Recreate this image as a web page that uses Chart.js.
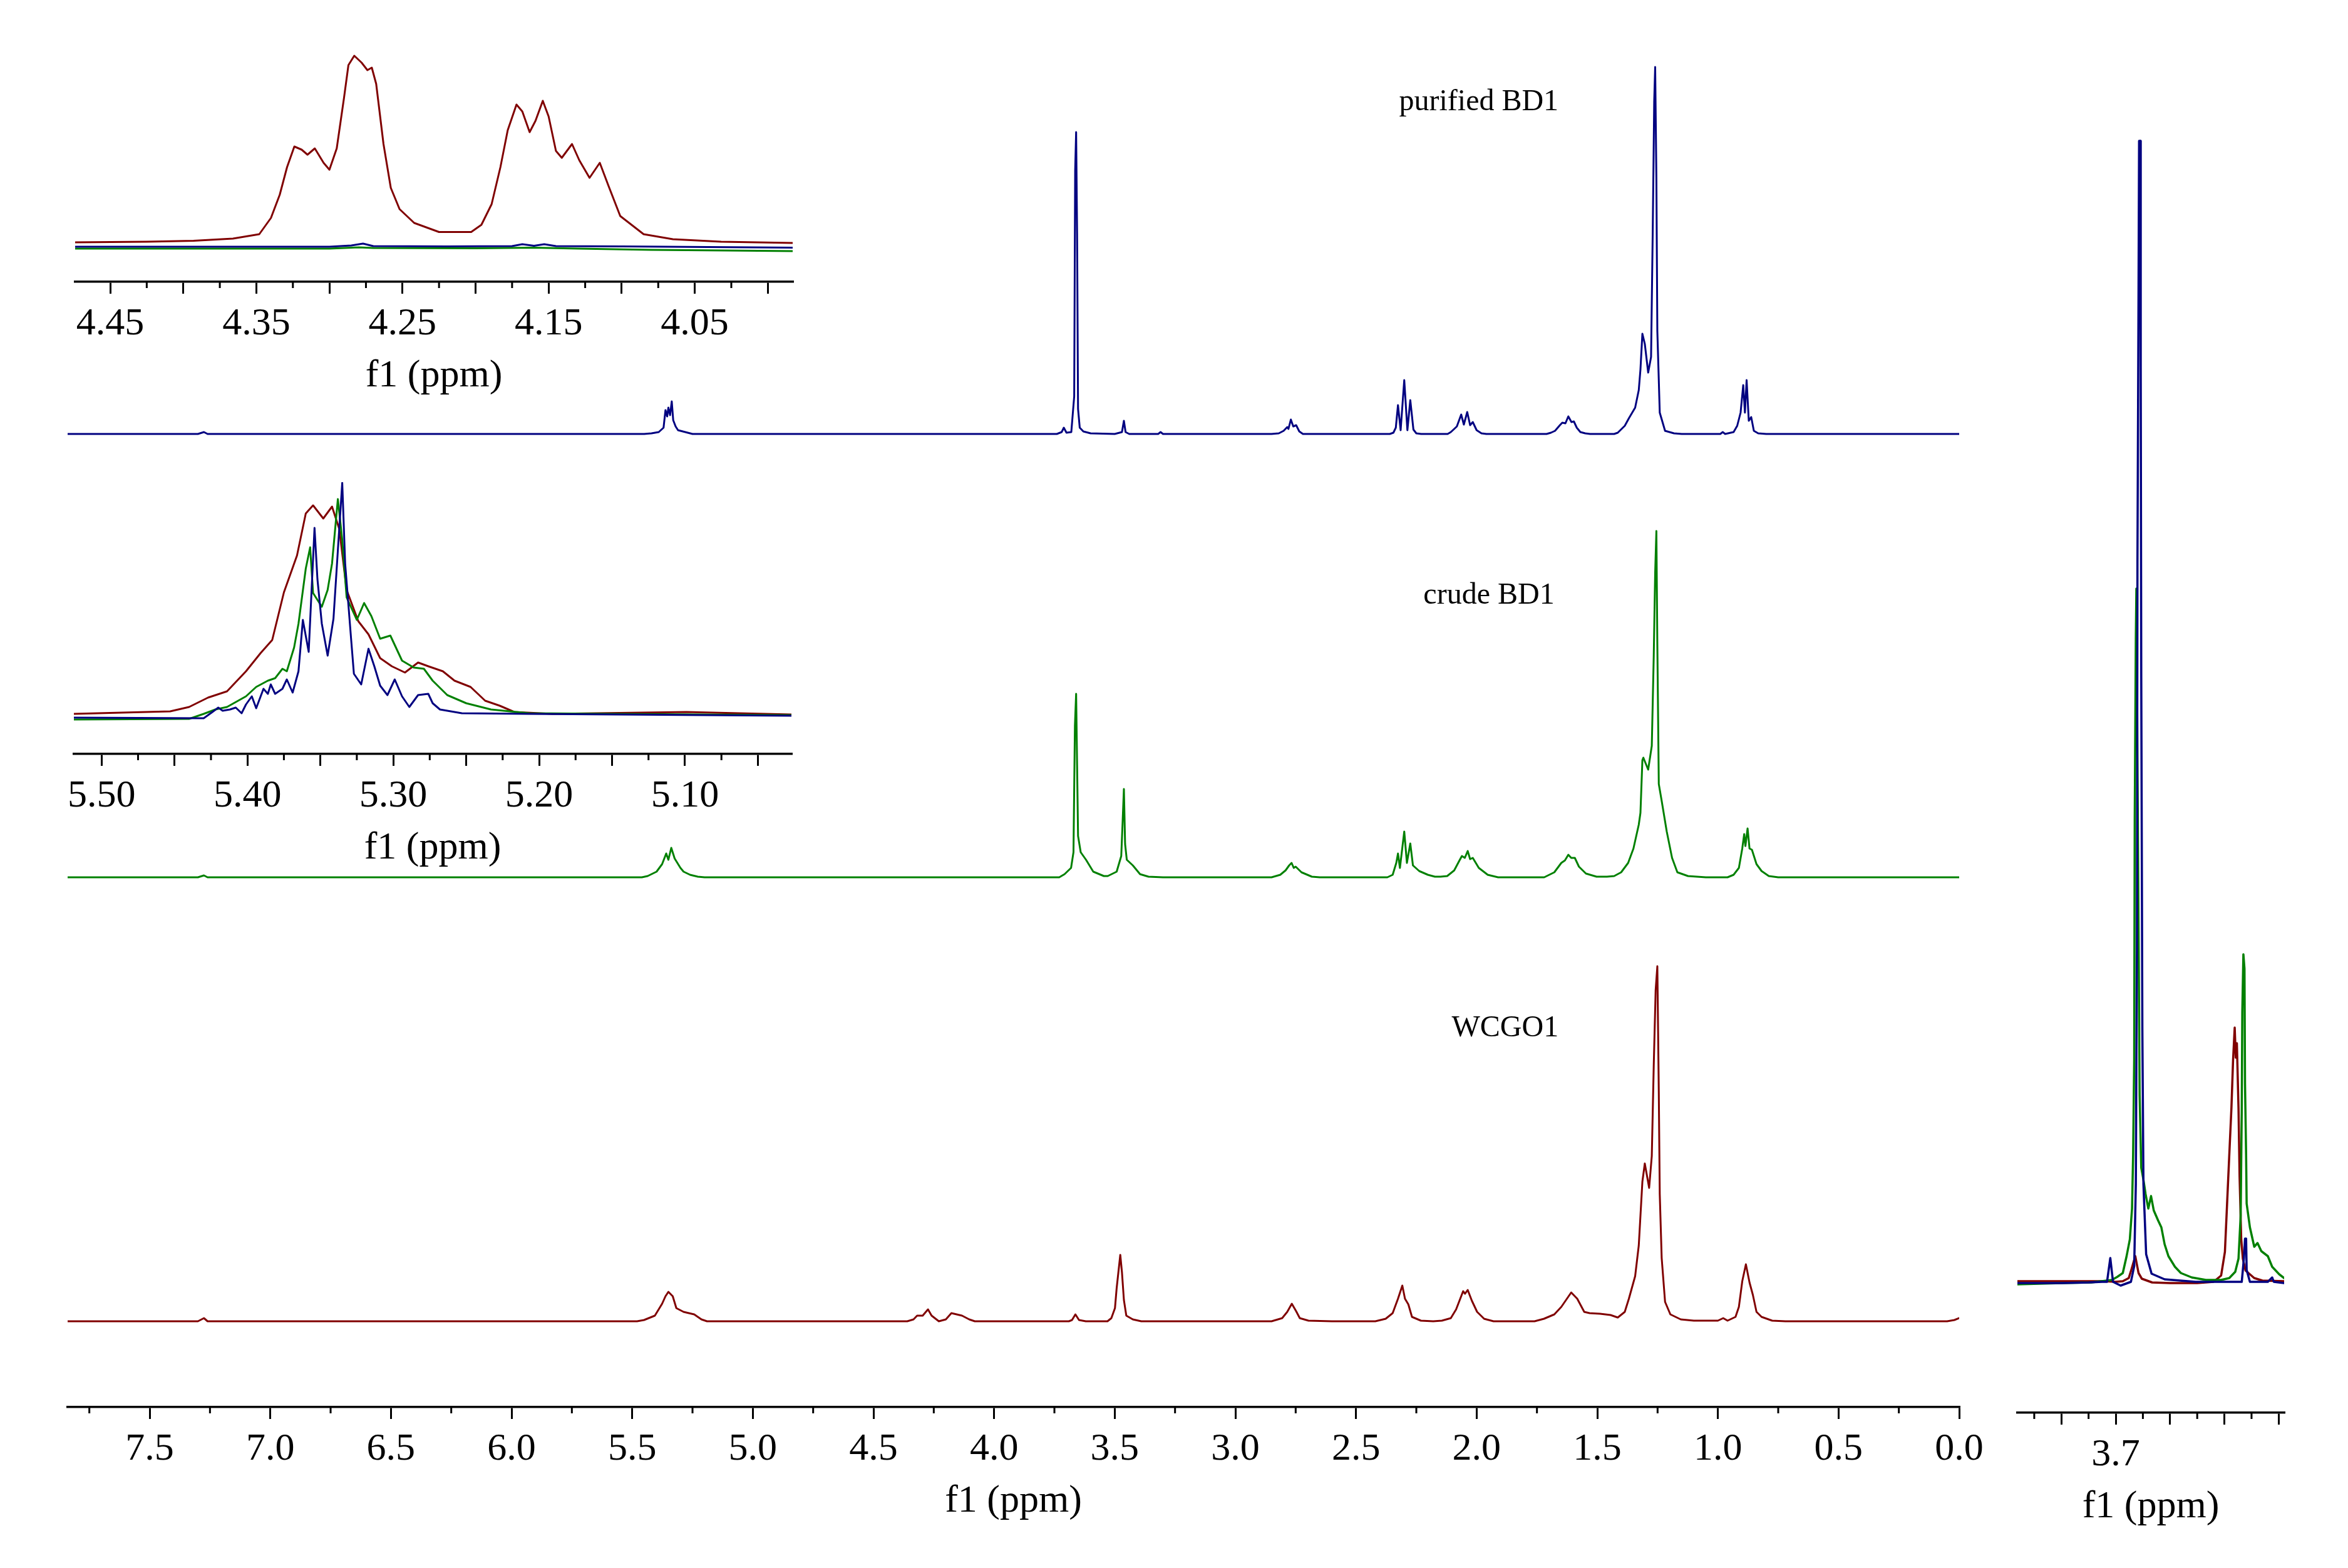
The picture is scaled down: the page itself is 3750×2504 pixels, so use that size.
<!DOCTYPE html>
<html><head><meta charset="utf-8">
<script src="https://cdn.jsdelivr.net/npm/chart.js@4.4.1/dist/chart.umd.min.js"></script>
<style>
html,body{margin:0;padding:0;background:#fff;}
body{width:3750px;height:2504px;position:relative;overflow:hidden;}
canvas{position:absolute;}
</style></head><body>
<canvas id="main" width="3200" height="2504" style="left:0;top:0;width:3200px;height:2504px"></canvas>
<canvas id="right" width="520" height="2504" style="left:3180px;top:0;width:520px;height:2504px"></canvas>
<canvas id="inset1" width="1300" height="700" style="left:0;top:0;width:1300px;height:700px"></canvas>
<canvas id="inset2" width="1300" height="720" style="left:0;top:700px;width:1300px;height:720px"></canvas>
<script>
// ---------------- DATA ----------------
// series names
const seriesNames = ['purified BD1', 'crude BD1', 'WCGO1'];

// main spectra: [ppm, intensity (a.u.)]
const purifiedMain = [[7.84,0],[7.30,0],[7.275,3],[7.26,0],[5.45,0],[5.42,1],[5.39,3],[5.37,10],[5.362,38],[5.355,28],[5.350,42],[5.343,30],[5.336,52],[5.33,22],[5.32,12],[5.31,6],[5.29,4],[5.27,2],[5.25,0],
 [3.74,0],[3.72,3],[3.711,10],[3.70,2],[3.68,3],[3.668,60],[3.664,420],[3.660,482],[3.656,320],[3.652,40],[3.645,10],[3.63,4],[3.60,1],[3.50,0],[3.47,3],[3.462,21],[3.455,3],[3.44,0],[3.32,0],[3.31,3],[3.30,0],
 [2.85,0],[2.82,1],[2.80,5],[2.785,11],[2.78,8],[2.77,23],[2.76,12],[2.748,14],[2.735,4],[2.72,0],
 [2.36,0],[2.345,2],[2.335,10],[2.326,46],[2.315,6],[2.300,86],[2.287,6],[2.275,54],[2.262,7],[2.25,1],[2.23,0],
 [2.12,0],[2.107,3],[2.093,8],[2.082,12],[2.064,31],[2.053,15],[2.039,35],[2.027,14],[2.016,19],[2.00,6],[1.98,1],[1.96,0],
 [1.71,0],[1.692,2],[1.675,5],[1.655,14],[1.645,18],[1.632,17],[1.62,28],[1.607,19],[1.597,20],[1.585,10],[1.57,3],[1.55,1],[1.53,0],
 [1.43,0],[1.415,2],[1.386,13],[1.369,25],[1.343,42],[1.328,70],[1.321,103],[1.313,160],[1.303,144],[1.289,98],[1.277,123],[1.270,327],[1.264,531],[1.260,586],[1.255,409],[1.251,164],[1.241,34],[1.219,5],[1.182,1],[1.15,0],
 [0.99,0],[0.98,3],[0.97,0],[0.935,3],[0.920,13],[0.906,34],[0.895,78],[0.888,34],[0.881,86],[0.872,21],[0.862,27],[0.851,5],[0.833,1],[0.80,0],[0.0,0]];

const crudeMain = [[7.84,0],[7.30,0],[7.275,3],[7.26,0],[5.46,0],[5.436,2],[5.399,9],[5.376,21],[5.359,38],[5.350,28],[5.338,47],[5.324,30],[5.30,15],[5.287,9],[5.26,4],[5.228,1],[5.20,0],
 [3.73,0],[3.708,5],[3.681,15],[3.671,40],[3.665,242],[3.660,293],[3.656,179],[3.652,66],[3.641,40],[3.619,28],[3.589,9],[3.545,2],[3.529,2],[3.492,9],[3.473,34],[3.467,91],[3.462,141],[3.457,53],[3.450,28],[3.425,19],[3.395,5],[3.36,1],[3.30,0],
 [2.85,0],[2.814,4],[2.792,11],[2.777,19],[2.767,23],[2.758,15],[2.750,17],[2.726,8],[2.683,1],[2.65,0],
 [2.37,0],[2.348,4],[2.333,23],[2.326,38],[2.318,15],[2.300,73],[2.289,23],[2.275,54],[2.264,19],[2.238,10],[2.202,4],[2.173,1],[2.15,1],
 [2.122,2],[2.093,11],[2.071,27],[2.061,34],[2.049,31],[2.037,42],[2.027,29],[2.016,31],[1.991,15],[1.954,4],[1.911,0],
 [1.72,0],[1.678,8],[1.649,23],[1.634,27],[1.620,36],[1.608,31],[1.593,31],[1.576,17],[1.547,6],[1.503,1],
 [1.46,1],[1.430,2],[1.401,8],[1.372,23],[1.350,46],[1.328,84],[1.321,103],[1.313,187],[1.309,191],[1.289,172],[1.274,210],[1.266,352],[1.260,486],[1.255,553],[1.251,371],[1.245,149],[1.233,122],[1.212,73],[1.190,31],[1.168,8],[1.124,2],[1.05,0],
 [0.96,0],[0.935,4],[0.913,15],[0.899,46],[0.891,69],[0.886,50],[0.877,78],[0.869,46],[0.859,44],[0.840,21],[0.819,10],[0.789,2],[0.75,0],[0.0,0]];

const wcgoMain = [[7.84,0],[7.30,0],[7.275,5],[7.26,0],[5.48,0],[5.451,2],[5.406,9],[5.376,28],[5.362,40],[5.350,47],[5.332,40],[5.317,21],[5.287,15],[5.243,11],[5.213,3],[5.19,0],
 [4.36,0],[4.334,3],[4.319,9],[4.296,9],[4.274,19],[4.259,9],[4.229,0],[4.200,3],[4.177,13],[4.155,11],[4.133,9],[4.103,3],[4.08,0],
 [3.69,0],[3.677,2],[3.663,11],[3.648,2],[3.62,0],
 [3.53,0],[3.514,5],[3.499,21],[3.492,53],[3.477,106],[3.470,78],[3.462,34],[3.452,9],[3.425,3],[3.39,0],
 [2.85,0],[2.806,5],[2.785,15],[2.766,28],[2.748,16],[2.733,5],[2.697,1],[2.60,0],
 [2.42,0],[2.377,4],[2.348,13],[2.326,36],[2.308,57],[2.297,36],[2.283,27],[2.268,7],[2.231,1],[2.18,0],
 [2.144,1],[2.107,5],[2.085,19],[2.056,48],[2.048,44],[2.037,50],[2.020,33],[1.998,15],[1.969,4],[1.93,0],
 [1.76,0],[1.721,4],[1.678,11],[1.649,23],[1.608,46],[1.583,36],[1.554,15],[1.532,13],[1.488,12],[1.445,10],[1.415,6],
 [1.386,15],[1.369,36],[1.343,72],[1.328,121],[1.313,223],[1.303,252],[1.285,213],[1.274,264],[1.266,407],[1.258,529],[1.251,567],[1.245,366],[1.241,203],[1.233,101],[1.219,31],[1.197,11],[1.154,3],[1.10,1],[1.0,1],
 [0.978,5],[0.96,1],[0.927,7],[0.913,23],[0.899,64],[0.884,91],[0.869,62],[0.855,42],[0.840,15],[0.819,7],[0.775,1],[0.72,0],[0.05,0],[0.02,2],[0.0,5]];

// inset 1 (4.47 - 3.98 ppm)
const wcgoInset1 = [[4.474,63],[4.425,64],[4.393,65.5],[4.366,69],[4.348,76],[4.340,102],[4.334,139],[4.329,183],[4.324,216],[4.319,211],[4.315,203],[4.310,213],[4.304,190],[4.300,179],[4.295,213],[4.290,294],[4.287,346],[4.283,361],[4.278,350],[4.274,338],[4.271,342],[4.268,316],[4.263,220],[4.258,150],[4.252,116],[4.242,94],[4.225,79.5],[4.203,79.5],[4.196,91],[4.189,124],[4.183,183],[4.178,242],[4.172,283],[4.168,272],[4.163,239],[4.159,257],[4.154,289],[4.150,264],[4.145,209],[4.141,198],[4.134,220],[4.129,194],[4.122,166],[4.115,190],[4.109,153],[4.101,105],[4.085,76],[4.065,68],[4.032,64],[3.983,62]];
const purifiedInset1 = [[4.474,56],[4.30,56],[4.285,58],[4.277,61],[4.270,57],[4.22,56.5],[4.175,57],[4.168,60],[4.160,57.5],[4.153,60],[4.145,57],[4.10,56.5],[4.07,56],[3.983,54.5]];
const crudeInset1 = [[4.474,53],[4.30,53],[4.28,55],[4.27,54],[4.20,53.5],[4.16,54.5],[4.13,53],[4.08,51],[4.03,50],[3.983,49]];

// inset 2 (5.52 - 5.03 ppm)
const wcgoInset2 = [[5.519,64],[5.453,68],[5.440,75],[5.427,90],[5.414,100],[5.401,132],[5.391,161],[5.383,182],[5.375,258],[5.366,317],[5.360,384],[5.355,397],[5.348,376],[5.342,395],[5.337,359],[5.332,262],[5.324,212],[5.317,191],[5.309,153],[5.301,140],[5.292,130],[5.283,146],[5.276,140],[5.266,132],[5.258,117],[5.247,107],[5.237,85],[5.227,77],[5.217,67],[5.191,64],[5.099,67],[5.027,63]];
const purifiedInset2 = [[5.519,58],[5.430,57],[5.424,67],[5.420,74],[5.417,69],[5.412,71],[5.408,74],[5.404,65],[5.401,79],[5.397,92],[5.394,73],[5.389,104],[5.386,96],[5.384,111],[5.381,96],[5.376,104],[5.373,119],[5.369,98],[5.365,132],[5.362,214],[5.358,163],[5.354,361],[5.352,279],[5.349,208],[5.345,157],[5.341,216],[5.338,325],[5.335,433],[5.333,304],[5.329,186],[5.327,128],[5.322,111],[5.317,168],[5.313,140],[5.309,109],[5.304,94],[5.299,119],[5.294,92],[5.289,75],[5.283,94],[5.276,96],[5.273,81],[5.268,71],[5.253,65],[5.207,64],[5.027,61]];
const crudeInset2 = [[5.519,55],[5.440,56],[5.430,64],[5.422,71],[5.414,75],[5.401,92],[5.394,107],[5.386,117],[5.381,121],[5.376,136],[5.373,132],[5.368,170],[5.365,208],[5.360,296],[5.357,330],[5.355,257],[5.349,235],[5.345,262],[5.342,304],[5.338,407],[5.335,342],[5.332,250],[5.325,214],[5.320,241],[5.315,220],[5.309,184],[5.302,189],[5.294,149],[5.286,138],[5.279,136],[5.273,117],[5.263,94],[5.250,81],[5.233,71],[5.207,65],[5.027,62]];

// right panel (3.88 - 3.39 ppm), overlaid
const purifiedRight = [[3.881,0],[3.80,0],[3.75,1],[3.725,2],[3.716,2],[3.710,40],[3.705,2],[3.691,-4],[3.672,2],[3.666,27],[3.663,158],[3.661,531],[3.660,1153],[3.658,1588],[3.657,1824],[3.655,1824],[3.654,1464],[3.653,966],[3.651,407],[3.649,158],[3.644,46],[3.634,15],[3.610,6],[3.553,2],[3.468,2],[3.464,40],[3.462,71],[3.460,71],[3.459,21],[3.453,2],[3.420,2],[3.412,9],[3.409,2],[3.390,0]];
const crudeRight = [[3.881,-2],[3.80,0],[3.745,1],[3.707,5],[3.697,10],[3.687,16],[3.680,43],[3.674,70],[3.670,119],[3.668,204],[3.666,357],[3.665,743],[3.663,1029],[3.662,1109],[3.659,700],[3.656,300],[3.654,223],[3.653,184],[3.649,165],[3.645,142],[3.640,119],[3.635,139],[3.630,116],[3.622,100],[3.616,89],[3.610,62],[3.603,43],[3.591,26],[3.580,16],[3.560,9],[3.534,5],[3.506,5],[3.491,8],[3.480,18],[3.474,39],[3.470,108],[3.468,280],[3.467,433],[3.465,525],[3.463,502],[3.462,318],[3.460,204],[3.459,127],[3.453,89],[3.445,58],[3.439,64],[3.432,51],[3.420,43],[3.412,26],[3.399,14],[3.390,8]];
const wcgoRight = [[3.881,3],[3.75,3],[3.72,3],[3.70,2],[3.687,3],[3.676,8],[3.671,22],[3.664,43],[3.658,16],[3.652,7],[3.633,1],[3.60,0],[3.55,0],[3.52,2],[3.506,12],[3.499,50],[3.495,127],[3.491,204],[3.487,280],[3.484,356],[3.481,408],[3.479,360],[3.477,383],[3.474,280],[3.472,170],[3.469,70],[3.466,39],[3.461,20],[3.445,8],[3.430,4],[3.390,3]];

// tick values
const mainMajor = [7.5,7.0,6.5,6.0,5.5,5.0,4.5,4.0,3.5,3.0,2.5,2.0,1.5,1.0,0.5,0.0];
const mainMinor = [7.75,7.25,6.75,6.25,5.75,5.25,4.75,4.25,3.75,3.25,2.75,2.25,1.75,1.25,0.75,0.25];
const inset1Major = [4.45,4.40,4.35,4.30,4.25,4.20,4.15,4.10,4.05,4.00];
const inset1Labels = [4.45,4.35,4.25,4.15,4.05];
const inset1Minor = [4.425,4.375,4.325,4.275,4.225,4.175,4.125,4.075,4.025];
const inset2Major = [5.50,5.45,5.40,5.35,5.30,5.25,5.20,5.15,5.10,5.05];
const inset2Labels = [5.50,5.40,5.30,5.20,5.10];
const inset2Minor = [5.475,5.425,5.375,5.325,5.275,5.225,5.175,5.125,5.075];
const rightMajor = [3.8,3.7,3.6,3.5,3.4];
const rightLabels = [3.7];
const rightMinor = [3.85,3.75,3.65,3.55,3.45];

// ---------------- STYLE ----------------
const FONT = '"Liberation Serif", "Times New Roman", serif';
const COL = { purified: '#000080', crude: '#008000', wcgo: '#800000' };
const AXIS_BLOCK = 200;

function xy(arr) { return arr.map(p => ({ x: p[0], y: p[1] })); }

function xAxis(min, max, major, labeled, dec) {
  return {
    type: 'linear', min: min, max: max, reverse: true,
    afterBuildTicks: s => { s.ticks = major.map(v => ({ value: v })); },
    afterFit: s => { s.height = AXIS_BLOCK; },
    ticks: {
      autoSkip: false, maxRotation: 0, minRotation: 0, padding: 12, color: '#000',
      font: { family: FONT, size: 62 },
      callback: v => labeled.some(l => Math.abs(l - v) < 1e-6) ? Number(v).toFixed(dec) : ''
    },
    grid: { display: true, drawOnChartArea: false, drawTicks: true, tickLength: 19, tickWidth: 3, tickColor: '#000', color: '#000', lineWidth: 3 },
    border: { display: true, color: '#000', width: 3.5 },
    title: { display: true, text: 'f1 (ppm)', color: '#000', font: { family: FONT, size: 62 }, padding: { top: 0, bottom: 12 } }
  };
}

function minorTicks(values, len) {
  return {
    id: 'minorTicks',
    afterDraw(chart) {
      const s = chart.scales.x, ctx = chart.ctx, y0 = chart.chartArea.bottom;
      ctx.save(); ctx.strokeStyle = '#000'; ctx.lineWidth = 3; ctx.beginPath();
      values.forEach(v => { const x = s.getPixelForValue(v); ctx.moveTo(x, y0); ctx.lineTo(x, y0 + len); });
      ctx.stroke(); ctx.restore();
    }
  };
}

function labelPlugin(items) {
  return {
    id: 'specLabels',
    afterDatasetsDraw(chart) {
      const ctx = chart.ctx; ctx.save();
      ctx.font = '48px ' + FONT; ctx.fillStyle = '#000'; ctx.textAlign = 'center'; ctx.textBaseline = 'alphabetic';
      items.forEach(it => {
        ctx.fillText(it.text, chart.scales.x.getPixelForValue(it.ppm), chart.scales[it.axis].getPixelForValue(it.h));
      });
      ctx.restore();
    }
  };
}

function ds(arr, color, axis, w) {
  return { data: xy(arr), yAxisID: axis, borderColor: color, borderWidth: w, pointRadius: 0, fill: false, tension: 0, borderJoinStyle: 'round', borderCapStyle: 'round' };
}

const baseOpts = {
  responsive: false, animation: false, devicePixelRatio: 1,
  plugins: { legend: { display: false }, tooltip: { enabled: false } },
  events: []
};

function make(id, datasets, scales, padding, plugins) {
  return new Chart(document.getElementById(id), {
    type: 'line',
    data: { datasets: datasets },
    options: Object.assign({}, baseOpts, { layout: { padding: padding }, scales: scales }),
    plugins: plugins
  });
}

// main stacked spectra
make('main',
  [ds(purifiedMain, COL.purified, 'yB', 3), ds(crudeMain, COL.crude, 'yG', 3), ds(wcgoMain, COL.wcgo, 'yR', 3)],
  {
    x: xAxis(0, 7.84, mainMajor, mainMajor, 1),
    y: { display: false },
    yB: { display: false, min: -1554, max: 693 },
    yG: { display: false, min: -846, max: 1401 },
    yR: { display: false, min: -137, max: 2110 }
  },
  { left: 108, right: 71, top: 0, bottom: 57 },
  [minorTicks(mainMinor, 10), labelPlugin([
    { text: seriesNames[0], ppm: 1.991, h: 517, axis: 'yB' },
    { text: seriesNames[1], ppm: 1.949, h: 437, axis: 'yG' },
    { text: seriesNames[2], ppm: 1.882, h: 455, axis: 'yR' }
  ])]
);

// inset 1
make('inset1',
  [ds(purifiedInset1, COL.purified, 'y', 3), ds(crudeInset1, COL.crude, 'y', 3), ds(wcgoInset1, COL.wcgo, 'y', 3)],
  { x: xAxis(3.983, 4.474, inset1Major, inset1Labels, 2), y: { display: false, min: 0, max: 365 } },
  { left: 120, right: 34, top: 85, bottom: 50 },
  [minorTicks(inset1Minor, 10)]
);

// inset 2
make('inset2',
  [ds(purifiedInset2, COL.purified, 'y', 3), ds(crudeInset2, COL.crude, 'y', 3), ds(wcgoInset2, COL.wcgo, 'y', 3)],
  { x: xAxis(5.027, 5.519, inset2Major, inset2Labels, 2), y: { display: false, min: 0, max: 434 } },
  { left: 118, right: 36, top: 70, bottom: 16 },
  [minorTicks(inset2Minor, 10)]
);

// right panel
make('right',
  [ds(purifiedRight, COL.purified, 'y', 3.5), ds(crudeRight, COL.crude, 'y', 3.5), ds(wcgoRight, COL.wcgo, 'y', 3.5)],
  { x: xAxis(3.390, 3.881, rightMajor, rightLabels, 1), y: { display: false, min: -207, max: 1829 } },
  { left: 42, right: 52, top: 220, bottom: 48 },
  [minorTicks(rightMinor, 10)]
);
</script>
</body></html>
